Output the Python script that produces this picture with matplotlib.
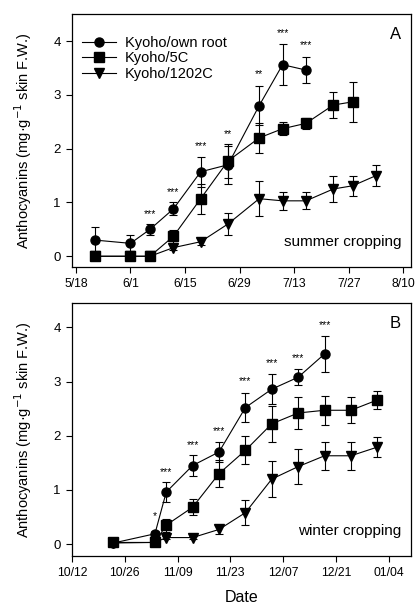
import numpy as np
import matplotlib
matplotlib.use("Agg")
import matplotlib.pyplot as plt
from matplotlib.lines import Line2D

plt.rcParams['font.family'] = ['Liberation Sans', 'DejaVu Sans']

# ---------------- Panel A: summer cropping ----------------
a_dates_own = ['2011-05-23', '2011-06-01', '2011-06-06', '2011-06-12', '2011-06-19',
               '2011-06-26', '2011-07-04', '2011-07-10', '2011-07-16']
a_own = [0.30, 0.24, 0.50, 0.88, 1.57, 1.70, 2.80, 3.56, 3.46]
a_own_err = [0.25, 0.16, 0.10, 0.12, 0.28, 0.35, 0.37, 0.38, 0.24]

a_dates_5c = ['2011-05-23', '2011-06-01', '2011-06-06', '2011-06-12', '2011-06-19',
              '2011-06-26', '2011-07-04', '2011-07-10', '2011-07-16', '2011-07-23', '2011-07-28']
a_5c = [0.0, 0.0, 0.0, 0.37, 1.07, 1.77, 2.20, 2.37, 2.47, 2.81, 2.87]
a_5c_err = [0.0, 0.0, 0.0, 0.12, 0.28, 0.31, 0.28, 0.12, 0.10, 0.25, 0.37]

a_dates_1202 = ['2011-05-23', '2011-06-01', '2011-06-06', '2011-06-12', '2011-06-19',
                '2011-06-26', '2011-07-04', '2011-07-10', '2011-07-16', '2011-07-23',
                '2011-07-28', '2011-08-03']
a_1202 = [0.0, 0.0, 0.0, 0.16, 0.27, 0.60, 1.07, 1.03, 1.03, 1.25, 1.31, 1.50]
a_1202_err = [0.0, 0.0, 0.0, 0.05, 0.07, 0.20, 0.32, 0.17, 0.16, 0.25, 0.19, 0.19]

a_sig_dates = ['2011-06-06', '2011-06-12', '2011-06-19', '2011-06-26', '2011-07-04',
               '2011-07-10', '2011-07-16']
a_sig_y = [0.70, 1.10, 1.96, 2.18, 3.30, 4.05, 3.84]
a_sig = ['***', '***', '***', '**', '**', '***', '***']

a_ticks = ['2011-05-18', '2011-06-01', '2011-06-15', '2011-06-29', '2011-07-13',
           '2011-07-27', '2011-08-10']
a_ticklabels = ['5/18', '6/1', '6/15', '6/29', '7/13', '7/27', '8/10']

# ---------------- Panel B: winter cropping ----------------
b_dates_own = ['2011-10-23', '2011-11-03', '2011-11-06', '2011-11-13', '2011-11-20',
               '2011-11-27', '2011-12-04', '2011-12-11', '2011-12-18']
b_own = [0.02, 0.19, 0.96, 1.45, 1.70, 2.52, 2.86, 3.08, 3.51]
b_own_err = [0.02, 0.05, 0.19, 0.19, 0.19, 0.26, 0.28, 0.15, 0.34]

b_dates_5c = ['2011-10-23', '2011-11-03', '2011-11-06', '2011-11-13', '2011-11-20',
              '2011-11-27', '2011-12-04', '2011-12-11', '2011-12-18', '2011-12-25', '2012-01-01']
b_5c = [0.03, 0.03, 0.35, 0.68, 1.30, 1.73, 2.22, 2.42, 2.47, 2.47, 2.66]
b_5c_err = [0.02, 0.02, 0.12, 0.15, 0.25, 0.26, 0.33, 0.30, 0.27, 0.24, 0.16]

b_dates_1202 = ['2011-10-23', '2011-11-03', '2011-11-06', '2011-11-13', '2011-11-20',
                '2011-11-27', '2011-12-04', '2011-12-11', '2011-12-18', '2011-12-25', '2012-01-01']
b_1202 = [0.02, 0.03, 0.12, 0.12, 0.27, 0.58, 1.20, 1.43, 1.63, 1.63, 1.79]
b_1202_err = [0.02, 0.02, 0.03, 0.03, 0.08, 0.23, 0.33, 0.32, 0.26, 0.26, 0.19]

b_sig_dates = ['2011-11-03', '2011-11-06', '2011-11-13', '2011-11-20', '2011-11-27',
               '2011-12-04', '2011-12-11', '2011-12-18']
b_sig_y = [0.42, 1.24, 1.74, 2.00, 2.91, 3.25, 3.35, 3.95]
b_sig = ['*', '***', '***', '***', '***', '***', '***', '***']

b_ticks = ['2011-10-12', '2011-10-26', '2011-11-09', '2011-11-23', '2011-12-07',
           '2011-12-21', '2012-01-04']
b_ticklabels = ['10/12', '10/26', '11/09', '11/23', '12/07', '12/21', '01/04']

series_labels = ['Kyoho/own root', 'Kyoho/5C', 'Kyoho/1202C']
yticks = [0, 1, 2, 3, 4]
markers = ['o', 's', 'v']


def d(lst):
    return np.array(lst, dtype='datetime64[D]').astype('O')


fig = plt.figure(figsize=(4.15, 6.13), dpi=100)
axA = fig.add_axes([0.1735, 0.5644, 0.8175, 0.4126])
axB = fig.add_axes([0.1735, 0.093, 0.8175, 0.4127])

ylabel = 'Anthocyanins (mg\u00b7g$^{-1}$ skin F.W.)'


def draw(ax, sets, sig_dates, sig_y, sig, ticks, ticklabels, xlim, ylim, letter, label, legend):
    for (dates, vals, errs), m, lab in zip(sets, markers, series_labels):
        ax.errorbar(d(dates), vals, yerr=errs, fmt='-', marker=m, color='black',
                    markersize=6.5, lw=0.8, elinewidth=0.8, capsize=3, capthick=0.8)
    for dt, y, s in zip(d(sig_dates), sig_y, sig):
        ax.text(dt, y, s, ha='center', va='bottom', fontsize=7.5)
    ax.set_xticks(d(ticks))
    ax.set_xticklabels(ticklabels, fontsize=8.8)
    ax.set_yticks(yticks)
    ax.set_yticklabels([str(v) for v in yticks], fontsize=9.5)
    ax.set_xlim(d(xlim))
    ax.set_ylim(ylim)
    ax.tick_params(direction='out', length=4, width=0.8, pad=4)
    for sp in ax.spines.values():
        sp.set_linewidth(0.9)
    ax.text(0.97, 0.95, letter, transform=ax.transAxes, ha='right', va='top', fontsize=12)
    ax.text(0.97, 0.07, label, transform=ax.transAxes, ha='right', va='bottom', fontsize=11)
    ax.set_ylabel(ylabel, fontsize=10.5, labelpad=14)
    if legend:
        handles = [Line2D([], [], color='black', lw=0.8, marker=m, markersize=6.5)
                   for m in markers]
        ax.legend(handles, series_labels, loc='upper left', bbox_to_anchor=(0.0, 0.955),
                  frameon=False, fontsize=10.5, handlelength=2.3, borderaxespad=0.3,
                  labelspacing=0.12, handletextpad=0.6)


draw(axA,
     [(a_dates_own, a_own, a_own_err), (a_dates_5c, a_5c, a_5c_err),
      (a_dates_1202, a_1202, a_1202_err)],
     a_sig_dates, a_sig_y, a_sig, a_ticks, a_ticklabels,
     ['2011-05-17', '2011-08-12'], (-0.2, 4.5), 'A', 'summer cropping', True)
draw(axB,
     [(b_dates_own, b_own, b_own_err), (b_dates_5c, b_5c, b_5c_err),
      (b_dates_1202, b_1202, b_1202_err)],
     b_sig_dates, b_sig_y, b_sig, b_ticks, b_ticklabels,
     ['2011-10-12', '2012-01-10'], (-0.22, 4.45), 'B', 'winter cropping', False)
axB.set_xlabel('Date', fontsize=11.5, labelpad=8)

fig.savefig('out.png', dpi=100)
